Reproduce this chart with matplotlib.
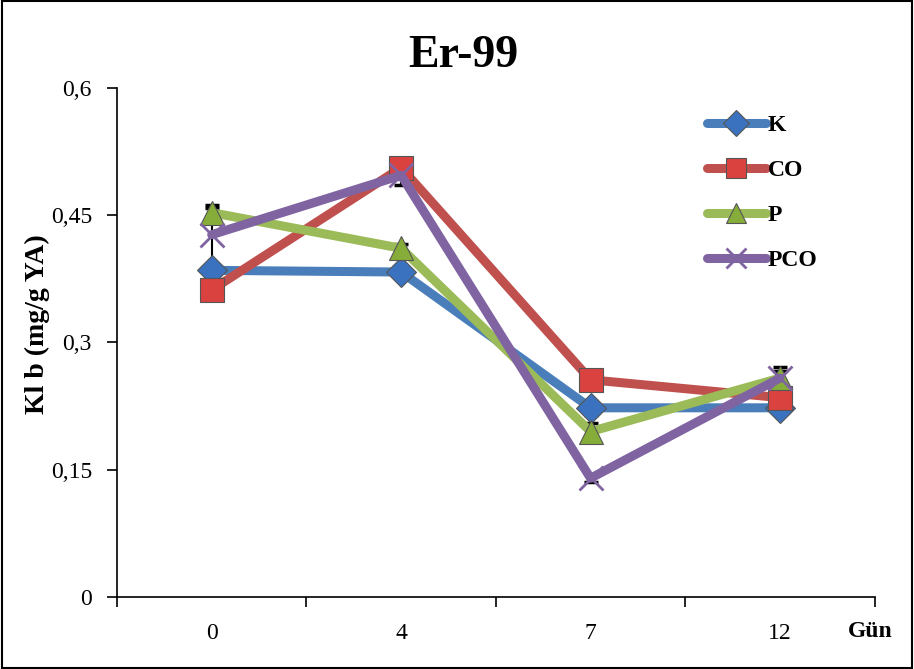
import numpy as np
import matplotlib.pyplot as plt
from matplotlib.patches import Rectangle

plt.rcParams['font.family'] = ['Liberation Serif', 'DejaVu Serif']

days = ['0', '4', '7', '12']
k_vals = [0.385, 0.383, 0.223, 0.223]
co_vals = [0.362, 0.506, 0.256, 0.235]
p_vals = [0.453, 0.411, 0.195, 0.258]
pco_vals = [0.427, 0.497, 0.140, 0.258]
k_err = [0.005, 0.005, 0.008, 0.005]
co_err = [0.005, 0.005, 0.005, 0.005]
p_err = [0.005, 0.005, 0.010, 0.013]
pco_err = [0.035, 0.012, 0.005, 0.008]

series = [
    ('K', k_vals, k_err, '#4A7EBB', 'D', '#3A72C0', 15),
    ('CO', co_vals, co_err, '#C0504D', 's', '#D9423F', 17),
    ('P', p_vals, p_err, '#9BBB59', '^', '#86AD3A', 17),
    ('PCO', pco_vals, pco_err, '#8064A2', 'x', '#8064A2', 17),
]

fig = plt.figure(figsize=(9.14, 6.69), dpi=100)
fig.patches.append(Rectangle((0.002, 0.002), 0.996, 0.996, transform=fig.transFigure,
                             fill=False, edgecolor='black', linewidth=1.5))
ax = fig.add_axes([0.128, 0.1076, 0.829, 0.761])

x = np.arange(len(days))
for name, vals, err, col, mk, mcol, ms in series:
    ax.errorbar(x, vals, yerr=err, fmt='none', ecolor='black', elinewidth=1.5,
                capsize=5, capthick=2.5, zorder=2)
for name, vals, err, col, mk, mcol, ms in series:
    if mk == 'x':
        ax.plot(x, vals, color=col, linewidth=6.5, marker=mk, markersize=ms,
                markeredgewidth=2, markeredgecolor=mcol, label=name, zorder=3,
                solid_capstyle='round')
    else:
        ax.plot(x, vals, color=col, linewidth=6.5, marker=mk, markersize=ms,
                markerfacecolor=mcol, markeredgecolor='#555555', markeredgewidth=0.8,
                label=name, zorder=3, solid_capstyle='round')

ax.set_xlim(-0.5, 3.5)
ax.set_ylim(0, 0.6)
ax.set_xticks(x)
ax.set_xticklabels(days, fontsize=17)
ax.set_xticks(np.arange(-0.5, 4, 1), minor=True)
ax.tick_params(axis='x', which='major', length=0, pad=19)
ax.tick_params(axis='x', which='minor', length=7, width=1.2)
ax.set_yticks([0, 0.15, 0.3, 0.45, 0.6])
ax.set_yticklabels(['0', '0,15', '0,3', '0,45', '0,6'], fontsize=17)
ax.tick_params(axis='y', length=7, width=1.2, pad=11)
ax.spines['top'].set_visible(False)
ax.spines['right'].set_visible(False)
ax.spines['left'].set_linewidth(1.2)
ax.spines['bottom'].set_linewidth(1.2)
ax.set_ylabel('Kl b (mg/g YA)', fontsize=20, fontweight='bold')
ax.yaxis.set_label_coords(-0.088, 0.536)
ax.text(1.024, -0.068, 'Gün', transform=ax.transAxes, fontsize=17, fontweight='bold',
        ha='right', va='center')
fig.text(0.507, 0.9, 'Er-99', ha='center', va='baseline', fontsize=33, fontweight='bold')

ax.legend(loc='upper left', bbox_to_anchor=(0.75, 0.99), frameon=False,
          prop={'weight': 'bold', 'size': 17}, labelspacing=1.0, handlelength=2.5,
          handletextpad=0.1, markerscale=0.85)

fig.savefig('out.png', dpi=100)
